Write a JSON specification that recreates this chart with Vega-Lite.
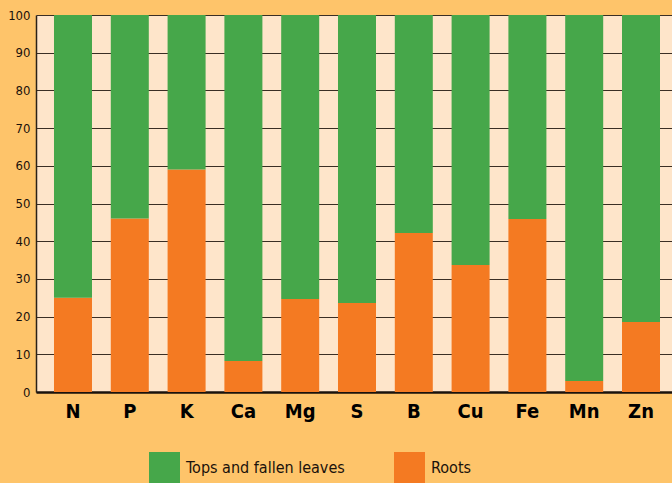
{
  "$schema": "https://vega.github.io/schema/vega-lite/v6.json",
  "autosize": {"type": "none"},
  "padding": {"left": 36, "top": 15, "right": 0, "bottom": 91},
  "width": 636,
  "height": 377,
  "background": "#FEC46A",
  "config": {
    "view": {"fill": "#FEE5CA", "stroke": null},
    "font": "DejaVu Sans Condensed"
  },
  "data": {
    "values": [
      {"element": "N", "part": "Roots", "pct": 25},
      {"element": "N", "part": "Tops and fallen leaves", "pct": 75},
      {"element": "P", "part": "Roots", "pct": 46},
      {"element": "P", "part": "Tops and fallen leaves", "pct": 54},
      {"element": "K", "part": "Roots", "pct": 59},
      {"element": "K", "part": "Tops and fallen leaves", "pct": 41},
      {"element": "Ca", "part": "Roots", "pct": 8.2},
      {"element": "Ca", "part": "Tops and fallen leaves", "pct": 91.8},
      {"element": "Mg", "part": "Roots", "pct": 24.7},
      {"element": "Mg", "part": "Tops and fallen leaves", "pct": 75.3},
      {"element": "S", "part": "Roots", "pct": 23.6},
      {"element": "S", "part": "Tops and fallen leaves", "pct": 76.4},
      {"element": "B", "part": "Roots", "pct": 42.2},
      {"element": "B", "part": "Tops and fallen leaves", "pct": 57.8},
      {"element": "Cu", "part": "Roots", "pct": 33.7},
      {"element": "Cu", "part": "Tops and fallen leaves", "pct": 66.3},
      {"element": "Fe", "part": "Roots", "pct": 45.9},
      {"element": "Fe", "part": "Tops and fallen leaves", "pct": 54.1},
      {"element": "Mn", "part": "Roots", "pct": 2.9},
      {"element": "Mn", "part": "Tops and fallen leaves", "pct": 97.1},
      {"element": "Zn", "part": "Roots", "pct": 18.6},
      {"element": "Zn", "part": "Tops and fallen leaves", "pct": 81.4}
    ]
  },
  "mark": {"type": "bar"},
  "encoding": {
    "x": {
      "field": "element",
      "type": "nominal",
      "sort": null,
      "scale": {"paddingInner": 0.331, "paddingOuter": 0.264, "align": 0.6},
      "axis": {
        "title": null,
        "labelAngle": 0,
        "labelFontSize": 20,
        "labelFontWeight": "bold",
        "labelColor": "#000000",
        "labelPadding": 9,
        "ticks": false,
        "domainColor": "#1a120c",
        "domainWidth": 2.5,
        "grid": false
      }
    },
    "y": {
      "field": "pct",
      "type": "quantitative",
      "stack": "zero",
      "scale": {"domain": [0, 100], "nice": false},
      "axis": {
        "title": null,
        "values": [0, 10, 20, 30, 40, 50, 60, 70, 80, 90, 100],
        "labelFontSize": 13,
        "labelColor": "#1a120c",
        "labelPadding": 6,
        "ticks": false,
        "domainColor": "#2a2018",
        "domainWidth": 1.5,
        "grid": true,
        "gridColor": "#3a2e24",
        "gridWidth": 1.2
      }
    },
    "color": {
      "field": "part",
      "type": "nominal",
      "scale": {
        "domain": ["Tops and fallen leaves", "Roots"],
        "range": ["#46A74A", "#F47A22"]
      },
      "legend": {
        "title": null,
        "orient": "none",
        "direction": "horizontal",
        "legendX": 113,
        "legendY": 437,
        "padding": 0,
        "symbolType": "square",
        "symbolSize": 961,
        "symbolStrokeWidth": 0,
        "labelFontSize": 16,
        "labelColor": "#1a120c",
        "labelOffset": 6,
        "columnPadding": 49,
        "labelLimit": 300
      }
    },
    "order": {"field": "part", "sort": "ascending"}
  }
}
